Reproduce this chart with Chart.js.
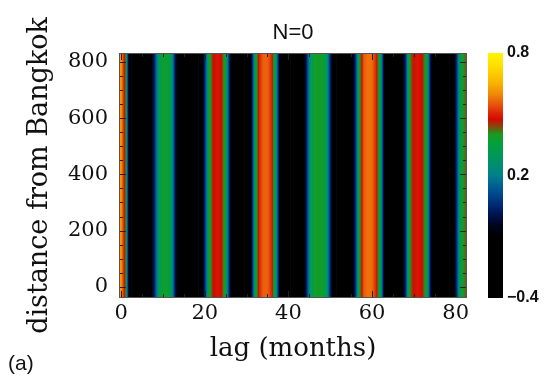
<!DOCTYPE html>
<html>
<head>
<meta charset="utf-8">
<script src="https://cdn.jsdelivr.net/npm/chart.js@4.4.0/dist/chart.umd.min.js"></script>
<style>
  html, body { margin: 0; padding: 0; background: #fff; }
  #wrap { position: relative; width: 552px; height: 377px; }
  #main { position: absolute; left: 0; top: 0; }
  #bar { position: absolute; left: 480px; top: 0; }
</style>
</head>
<body>
<div id="wrap">
  <canvas id="main" width="552" height="377"></canvas>
  <canvas id="bar" width="72" height="377"></canvas>
</div>
<script>
// lagged correlation vs lag (months), same at every distance (N=0)
const corr = [
  0.62, 0.44, -0.15, -0.30, -0.35, -0.35, -0.30, -0.15, 0.05, 0.30,
  0.38, 0.38, 0.30, 0.00, -0.20, -0.30, -0.35, -0.35, -0.30, -0.20,
  0.05, 0.36, 0.47, 0.49, 0.47, 0.36, 0.00, -0.25, -0.35, -0.35,
  -0.30, -0.10, 0.30, 0.50, 0.56, 0.56, 0.50, 0.28, -0.10, -0.30,
  -0.35, -0.35, -0.30, -0.20, -0.05, 0.22, 0.37, 0.39, 0.39, 0.33,
  0.05, -0.20, -0.30, -0.35, -0.35, -0.20, 0.05, 0.38, 0.55, 0.58,
  0.57, 0.50, 0.30, -0.10, -0.30, -0.35, -0.35, -0.20, 0.05, 0.40,
  0.48, 0.49, 0.47, 0.36, 0.00, -0.25, -0.35, -0.35, -0.30, -0.20,
  0.00, 0.30, 0.42
];
const lags = corr.map((_, i) => i);
const distRange = [-40, 832];          // km from Bangkok covered by the image
const lagRange = [-0.5, 82.7];
const xTicks = [0, 20, 40, 60, 80];
const yTicks = [0, 200, 400, 600, 800];
const xMinor = 5, yMinor = 50;
const cbRange = [-0.4, 0.8];
const cbTicks = [-0.4, 0.2, 0.8];

// colour table
const cmap = [
  [-0.40, '#000000'], [-0.10, '#000000'], [-0.05, '#000418'], [0.00, '#000f48'],
  [0.05, '#002670'], [0.10, '#00428c'], [0.15, '#006092'], [0.20, '#00808a'],
  [0.25, '#008e72'], [0.30, '#009858'], [0.36, '#03a03a'], [0.40, '#1a9a22'],
  [0.425, '#566a12'], [0.45, '#a03408'], [0.475, '#d20a00'], [0.51, '#de2a06'],
  [0.55, '#e8560c'], [0.60, '#f08a06'], [0.66, '#f8b800'], [0.74, '#ffe000'],
  [0.80, '#fff400']
];

function rgb(h) {
  return [1, 3, 5].map(i => parseInt(h.slice(i, i + 2), 16));
}
function colorAt(v) {
  if (v <= cmap[0][0]) return cmap[0][1];
  for (let i = 1; i < cmap.length; i++) {
    if (v <= cmap[i][0]) {
      const t = (v - cmap[i - 1][0]) / (cmap[i][0] - cmap[i - 1][0]);
      const a = rgb(cmap[i - 1][1]), b = rgb(cmap[i][1]);
      const c = a.map((x, k) => Math.round(x + (b[k] - x) * t));
      return 'rgb(' + c.join(',') + ')';
    }
  }
  return cmap[cmap.length - 1][1];
}

// horizontal gradient through the monthly cells, so the stripes shade
// smoothly like the original image instead of looking blocky
let stripeGrad = null, stripeKey = '';
function stripeFill(ctx) {
  const chart = ctx.chart, area = chart.chartArea;
  if (!area) return '#000';
  const key = area.left + ',' + area.right;
  if (stripeGrad && key === stripeKey) return stripeGrad;
  const xs = chart.scales.x;
  const w = area.right - area.left;
  const g = chart.ctx.createLinearGradient(area.left, 0, area.right, 0);
  const add = (lag, v) => {
    const off = (xs.getPixelForValue(lag) - area.left) / w;
    if (off >= 0 && off <= 1) g.addColorStop(off, colorAt(v));
  };
  for (let i = 0; i < corr.length; i++) {
    add(lags[i], corr[i]);
    if (i < corr.length - 1) {
      for (let k = 1; k < 8; k++) {
        const t = k / 8;
        add(lags[i] + t, corr[i] + (corr[i + 1] - corr[i]) * t);
      }
    }
  }
  stripeGrad = g; stripeKey = key;
  return g;
}

const sans = '"Liberation Sans", Arial, sans-serif';
const serif = '"DejaVu Serif", serif';

// inward ticks, frame, panel title and the (a) tag
const frameTicks = {
  id: 'frameTicks',
  afterDatasetsDraw(chart) {
    const { ctx, chartArea: a, scales: { x, y } } = chart;
    ctx.save();
    ctx.strokeStyle = '#222';
    ctx.lineWidth = 1;
    ctx.beginPath();
    for (let v = Math.ceil(lagRange[0] / xMinor) * xMinor; v <= lagRange[1]; v += xMinor) {
      const px = Math.round(x.getPixelForValue(v)) + 0.5;
      const len = xTicks.includes(v) ? 7 : 4;
      ctx.moveTo(px, a.bottom); ctx.lineTo(px, a.bottom - len);
      ctx.moveTo(px, a.top); ctx.lineTo(px, a.top + len);
    }
    for (let v = Math.ceil(distRange[0] / yMinor) * yMinor; v <= distRange[1]; v += yMinor) {
      const py = Math.round(y.getPixelForValue(v)) + 0.5;
      const len = yTicks.includes(v) ? 7 : 4;
      ctx.moveTo(a.left, py); ctx.lineTo(a.left + len, py);
      ctx.moveTo(a.right, py); ctx.lineTo(a.right - len, py);
    }
    ctx.stroke();
    ctx.strokeStyle = '#555';
    ctx.strokeRect(a.left + 0.5, a.top + 0.5, a.right - a.left - 1, a.bottom - a.top - 1);
    ctx.restore();
  },
  afterDraw(chart) {
    const { ctx, chartArea: a } = chart;
    ctx.save();
    ctx.fillStyle = '#111';
    ctx.textBaseline = 'middle';
    ctx.textAlign = 'center';
    ctx.font = '22px ' + sans;
    ctx.fillText('N=0', (a.left + a.right) / 2, 33);
    ctx.textAlign = 'left';
    ctx.font = '21px ' + sans;
    ctx.fillText('(a)', 8, 364);
    ctx.restore();
  }
};

new Chart(document.getElementById('main'), {
  type: 'bar',
  data: {
    datasets: [{
      data: lags.map(l => ({ x: l, y: distRange })),
      backgroundColor: stripeFill,
      borderWidth: 0,
      barPercentage: 1,
      categoryPercentage: 1
    }]
  },
  options: {
    responsive: false,
    animation: false,
    layout: { padding: { left: 0, right: 85, top: 53, bottom: 0 } },
    plugins: {
      legend: { display: false },
      tooltip: { enabled: false },
      title: { display: false }
    },
    scales: {
      x: {
        type: 'linear',
        min: lagRange[0], max: lagRange[1],
        offset: false,
        grid: { display: false, offset: false, drawTicks: false },
        border: { display: false },
        afterBuildTicks: s => { s.ticks = xTicks.map(v => ({ value: v })); },
        afterFit: s => { s.height = 79; },
        ticks: { color: '#111', padding: 3, maxRotation: 0, font: { family: serif, size: 21 } },
        title: {
          display: true, text: 'lag (months)', color: '#111',
          font: { family: serif, size: 26 }, padding: 12
        }
      },
      y: {
        min: distRange[0], max: distRange[1],
        grid: { display: false, drawTicks: false },
        border: { display: false },
        afterBuildTicks: s => { s.ticks = yTicks.map(v => ({ value: v })); },
        afterFit: s => { s.width = 119; },
        ticks: { color: '#111', padding: 11, font: { family: serif, size: 21 } },
        title: {
          display: true, text: 'distance from Bangkok', color: '#111',
          font: { family: serif, size: 27 }, padding: { top: 24, bottom: 0 }
        }
      }
    }
  },
  plugins: [frameTicks]
});

// colour bar
new Chart(document.getElementById('bar'), {
  type: 'bar',
  data: {
    labels: [''],
    datasets: [{
      data: [cbRange],
      borderWidth: 0,
      barPercentage: 1,
      categoryPercentage: 1,
      backgroundColor: ctx => {
        const area = ctx.chart.chartArea;
        if (!area) return '#000';
        const g = ctx.chart.ctx.createLinearGradient(0, area.bottom, 0, area.top);
        cmap.forEach(([v, c]) => g.addColorStop((v - cbRange[0]) / (cbRange[1] - cbRange[0]), c));
        return g;
      }
    }]
  },
  options: {
    responsive: false,
    animation: false,
    layout: { padding: { left: 8, top: 53, bottom: 79, right: 0 } },
    plugins: { legend: { display: false }, tooltip: { enabled: false } },
    scales: {
      x: { display: false },
      y: {
        position: 'right',
        min: cbRange[0], max: cbRange[1],
        grid: { display: false, drawTicks: false },
        border: { display: false },
        afterBuildTicks: s => { s.ticks = cbTicks.map(v => ({ value: v })); },
        afterFit: s => { s.width = 49; },
        ticks: {
          color: '#111', padding: 4,
          font: { family: sans, size: 16, weight: 'bold' },
          callback: v => v.toFixed(1).replace('-', '\u2212')
        }
      }
    }
  }
});
</script>
</body>
</html>
